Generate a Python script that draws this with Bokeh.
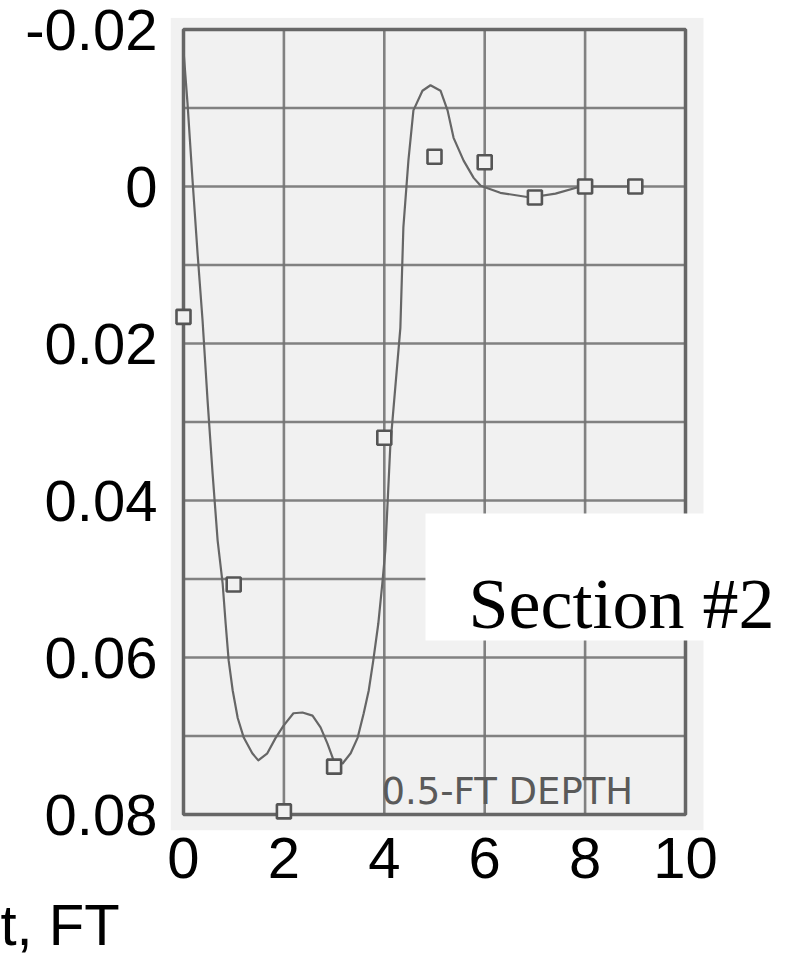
from bokeh.plotting import figure
from bokeh.models import Range1d, FixedTicker, CustomJSTickFormatter, Label, BoxAnnotation, Title
from bokeh.embed import file_html
from bokeh.resources import INLINE

# ---- data ----
x_ticks = [0, 2, 4, 6, 8, 10]
y_ticks = [-0.02, 0.0, 0.02, 0.04, 0.06, 0.08]
y_tick_labels = ["-0.02", "0", "0.02", "0.04", "0.06", "0.08"]

point_x = [0, 1, 2, 3, 4, 5, 6, 7, 8, 9]
point_y = [0.0166, 0.0507, 0.0796, 0.0739, 0.0320, -0.0038, -0.0031, 0.0014, 0.0, 0.0]

curve_x = [0.0, 0.08, 0.18, 0.28, 0.38, 0.48, 0.58, 0.68, 0.78, 0.84, 0.90, 0.98,
           1.08, 1.20, 1.37, 1.49, 1.67, 1.83, 1.99, 2.19, 2.37, 2.57, 2.73, 2.87,
           2.99, 3.17, 3.33, 3.47, 3.59, 3.69, 3.78, 3.88, 3.96, 4.02, 4.12, 4.32,
           4.38, 4.48, 4.58, 4.76, 4.92, 5.12, 5.26, 5.38, 5.58, 5.78, 5.92, 6.31,
           6.91, 7.41, 7.91, 9.0]
curve_y = [-0.0173, -0.0106, -0.0008, 0.0085, 0.0171, 0.0273, 0.0366, 0.0451, 0.0506,
           0.0557, 0.0604, 0.0642, 0.0677, 0.0702, 0.0722, 0.0731, 0.0722, 0.0703,
           0.0687, 0.0671, 0.0670, 0.0674, 0.0689, 0.0710, 0.0731, 0.0735, 0.0722,
           0.0702, 0.0671, 0.0642, 0.0604, 0.0557, 0.0506, 0.0464, 0.0330, 0.0180,
           0.0052, -0.0033, -0.0097, -0.0122, -0.0129, -0.0122, -0.0097, -0.0062,
           -0.0033, -0.0011, -0.0001, 0.0008, 0.0014, 0.0009, 0.0, 0.0]

grid_x = [2, 4, 6, 8]
grid_y = [-0.01, 0.0, 0.01, 0.02, 0.03, 0.04, 0.05, 0.06, 0.07]

x_title = "t, FT"

x_lo, x_hi = 0, 10
y_lo, y_hi = -0.02, 0.08

PAPER = "#f1f1f1"
INK = "#666666"

p = figure(width=785, height=969, output_backend="svg", toolbar_location=None,
           x_range=Range1d(-0.259, 11.992), y_range=Range1d(0.08955, -0.02153),
           min_border_left=170, min_border_right=0, min_border_top=17,
           min_border_bottom=80, background_fill_color="white",
           border_fill_color="white", outline_line_color=None)
p.xgrid.visible = False
p.ygrid.visible = False

# scanned paper
p.quad(left=-0.259, right=10.359, top=-0.0215, bottom=0.082,
       fill_color=PAPER, line_color=None)

# grid of the scanned chart
p.segment(x0=grid_x, y0=y_lo, x1=grid_x, y1=y_hi, line_color="#747474",
          line_width=2.6, line_alpha=0.9)
p.segment(x0=x_lo, y0=grid_y, x1=x_hi, y1=grid_y, line_color="#747474",
          line_width=2.6, line_alpha=0.9)
p.quad(left=x_lo, right=x_hi, top=y_lo, bottom=y_hi, fill_color=None,
       line_color="#666666", line_width=3.5)

# curve and points
p.line(curve_x, curve_y, line_color=INK, line_width=2.2, line_join="round")
p.scatter(point_x, point_y, marker="square", size=14, fill_color=PAPER,
          line_color="#555555", line_width=2.6)

# axes
for ax in (p.xaxis[0], p.yaxis[0]):
    ax.axis_line_color = None
    ax.major_tick_line_color = None
    ax.minor_tick_line_color = None
    ax.major_tick_in = 0
    ax.major_tick_out = 0
    ax.major_label_text_font = "Liberation Sans"
    ax.major_label_text_font_size = "58px"
    ax.major_label_text_color = "black"

p.xaxis.ticker = FixedTicker(ticks=x_ticks)
p.xaxis.major_label_standoff = -52
p.yaxis.ticker = FixedTicker(ticks=y_ticks)
p.yaxis.formatter = CustomJSTickFormatter(args=dict(labels=y_tick_labels),
                                          code="return labels[index];")
p.yaxis.major_label_standoff = 13

# annotation on the scan
p.add_layout(Label(x=6.45, y=0.0771, text="0.5-FT DEPTH", text_align="center",
                   text_baseline="middle", text_font="DejaVu Sans",
                   text_font_size="37px", text_color="#5a5a5a"))

# white box with section label
p.add_layout(BoxAnnotation(left=4.82, right=12.3, top=0.04166, bottom=0.05783,
                           fill_color="white", fill_alpha=1.0, line_color=None))
p.add_layout(Label(x=5.677, y=0.05312, text="Section #2", text_align="left",
                   text_baseline="alphabetic", text_font="Liberation Serif",
                   text_font_size="72px", text_color="black"))

# axis title, cut at the left edge as in the reference
p.add_layout(Title(text=x_title, align="left", offset=-170, standoff=0,
                   text_font="Liberation Sans", text_font_size="58px",
                   text_font_style="normal", text_color="black"), "below")

open("out.html", "w").write(file_html(p, INLINE))
